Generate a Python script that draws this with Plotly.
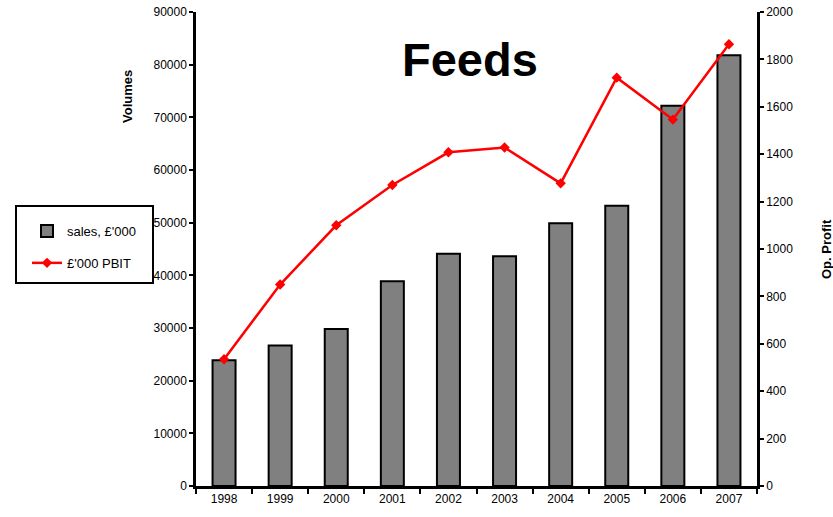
import plotly.graph_objects as go

years = ["1998", "1999", "2000", "2001", "2002", "2003", "2004", "2005", "2006", "2007"]
sales = [23900, 26700, 29800, 38900, 44100, 43600, 49900, 53200, 72200, 81800]
pbit = [535, 850, 1100, 1270, 1408, 1428, 1277, 1723, 1546, 1864]
left_ticks = [0, 10000, 20000, 30000, 40000, 50000, 60000, 70000, 80000, 90000]
right_ticks = [0, 200, 400, 600, 800, 1000, 1200, 1400, 1600, 1800, 2000]

FONT = "Liberation Sans, Arial, sans-serif"
W, H = 833, 517
ML, MR, MT, MB = 196, 76, 12, 31
PW, PH = W - ML - MR, H - MT - MB


def px(x):
    return (x - ML) / PW


def py(y):
    return (H - MB - y) / PH


fig = go.Figure()
fig.add_trace(go.Bar(
    x=years, y=sales, name="sales, £'000", legendgroup="a",
    marker=dict(color="#808080", line=dict(color="black", width=2)),
    width=0.41, yaxis="y",
))
fig.add_trace(go.Scatter(
    x=years, y=pbit, name="£'000 PBIT", mode="lines+markers", legendgroup="b",
    line=dict(color="#ff0000", width=2.5),
    marker=dict(symbol="diamond", size=8, color="#ff0000"),
    yaxis="y2",
))

fig.update_layout(
    width=W, height=H,
    margin=dict(l=ML, r=MR, t=MT, b=MB, pad=0, autoexpand=False),
    paper_bgcolor="white", plot_bgcolor="white",
    font=dict(family=FONT, size=12, color="black"),
    showlegend=True,
    legend=dict(
        x=px(27), y=py(216), xanchor="left", yanchor="top",
        borderwidth=0, bgcolor="rgba(0,0,0,0)",
        font=dict(size=13, family=FONT), traceorder="grouped",
        tracegroupgap=12, itemwidth=30,
    ),
    xaxis=dict(
        type="category", showline=True, linecolor="black", linewidth=2.5,
        ticks="outside", tickson="boundaries", ticklen=5, tickwidth=2,
        tickcolor="black", showgrid=False, zeroline=False,
        tickfont=dict(size=12), range=[-0.5, 9.5], automargin=False,
    ),
    yaxis=dict(
        range=[0, 90000], tickvals=left_ticks, tickformat="d",
        showline=True, linecolor="black", linewidth=2.5,
        ticks="outside", ticklen=4, tickwidth=2, tickcolor="black",
        showgrid=False, zeroline=False, tickfont=dict(size=12), automargin=False,
    ),
    yaxis2=dict(
        range=[0, 2000], tickvals=right_ticks, overlaying="y", side="right",
        showline=True, linecolor="black", linewidth=2.5,
        ticks="outside", ticklen=4, tickwidth=2, tickcolor="black",
        showgrid=False, zeroline=False, tickfont=dict(size=12), automargin=False,
    ),
)

# legend frame
fig.add_shape(
    type="rect", xref="paper", yref="paper",
    x0=px(16), x1=px(153), y0=py(283), y1=py(206),
    line=dict(color="black", width=2), fillcolor="white", layer="below",
)

fig.add_annotation(
    text="<b>Feeds</b>", x=px(470), y=py(60), xref="paper", yref="paper",
    xanchor="center", yanchor="middle",
    showarrow=False, font=dict(size=47, family=FONT, color="black"),
)
fig.add_annotation(
    text="<b>Volumes</b>", x=px(127), y=py(97), xref="paper", yref="paper",
    xanchor="center", yanchor="middle",
    textangle=-90, showarrow=False, font=dict(size=13, family=FONT),
)
fig.add_annotation(
    text="<b>Op. Profit</b>", x=px(826), y=py(249), xref="paper", yref="paper",
    xanchor="center", yanchor="middle",
    textangle=-90, showarrow=False, font=dict(size=13, family=FONT),
)

fig.write_html("out.html")
